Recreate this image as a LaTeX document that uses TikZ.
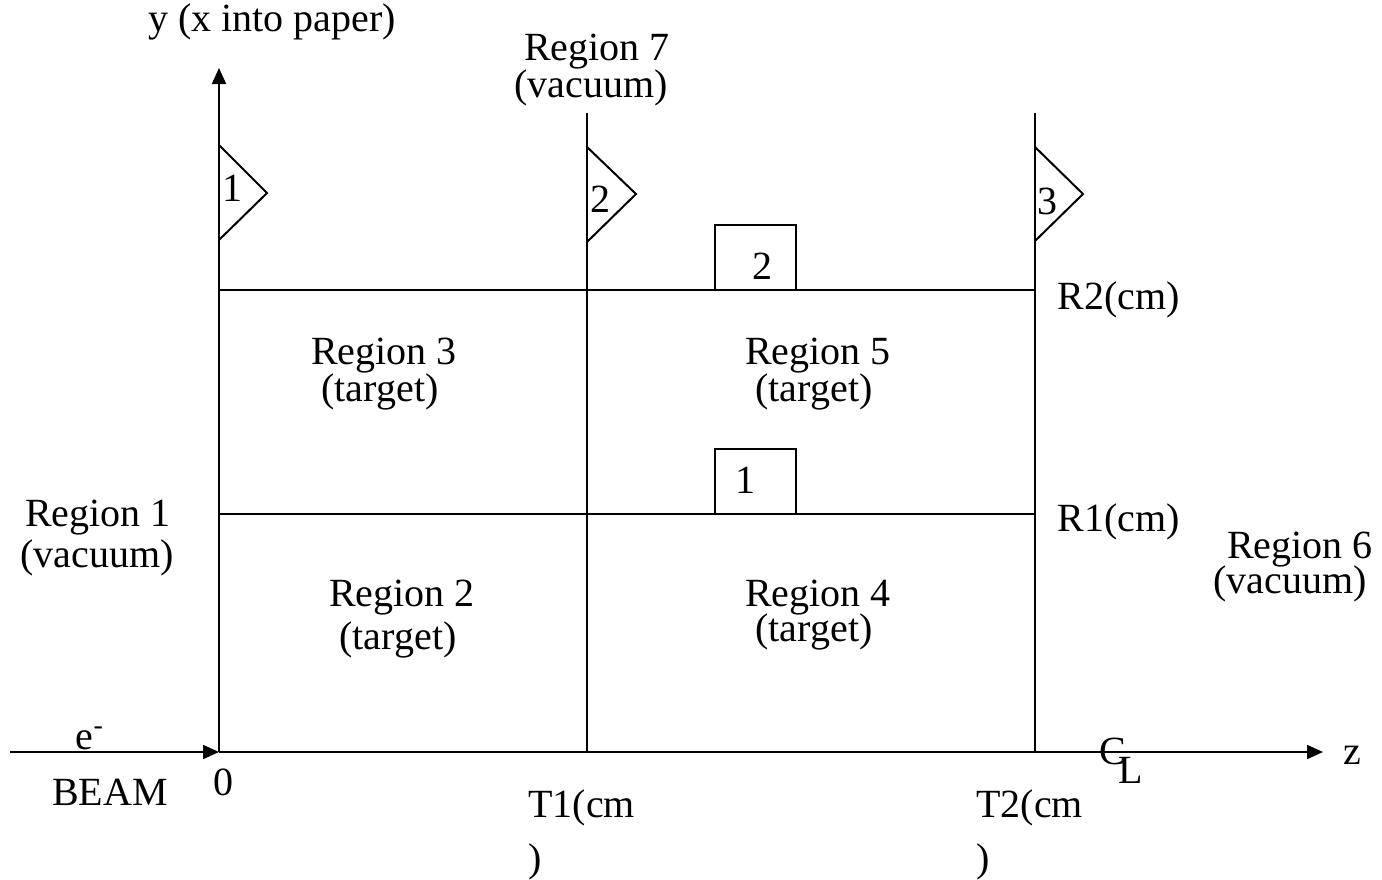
\documentclass[tikz,border=0pt]{standalone}
\usepackage{fontspec}
\setmainfont{Liberation Serif}
\usetikzlibrary{arrows.meta}
\tikzset{
  lbl/.style={inner sep=0pt, font=\fontsize{20}{24}\selectfont},
  ln/.style={line width=1pt},
  tip/.style={ln, -{Triangle[length=8pt,width=7pt]}},
}
\begin{document}
\begin{tikzpicture}[x=0.5pt,y=-0.5pt]
\useasboundingbox (0,0) rectangle (1382,879);

% axes and beam
\coordinate (o) at (219,752);
\coordinate (ytop) at (219,68);
\coordinate (beamstart) at (10,752);
\coordinate (zend) at (1323,752);
\draw[tip] (beamstart) -- (o);
\draw[tip] (o) -- (zend);
\draw[tip] (o) -- (ytop);

% interfaces
\coordinate (t1b) at (587,752); \coordinate (t1t) at (587,113);
\coordinate (t2b) at (1035,752); \coordinate (t2t) at (1035,113);
\draw[ln] (t1b) -- (t1t);
\draw[ln] (t2b) -- (t2t);
\coordinate (r2a) at (219,290); \coordinate (r2b) at (1035,290);
\coordinate (r1a) at (219,514); \coordinate (r1b) at (1035,514);
\draw[ln] (r2a) -- (r2b);
\draw[ln] (r1a) -- (r1b);

% surface markers (triangles) and radial markers (boxes)
\draw[ln] (219,145) -- (267,193) -- (219,240);
\draw[ln] (587,147) -- (636,194) -- (587,242);
\draw[ln] (1035,147) -- (1083,194) -- (1035,241);
\draw[ln] (715,290) |- (796,225) -- (796,290);
\draw[ln] (715,514) |- (796,449) -- (796,514);
\node[lbl] (tri1) at (232,188) {1};
\node[lbl] (tri2) at (600,199) {2};
\node[lbl] (tri3) at (1047,201) {3};
\node[lbl] (box2) at (762,266) {2};
\node[lbl] (box1) at (745,480) {1};

% axis labels
\node[lbl] (ylab) at (272,22) {y (x into paper)};
\node[lbl] (zlab) at (1352,755) {z};
\node[lbl] (zero) at (223,782) {0};
\node[lbl] (elec) at (90,738) {e\textsuperscript{-}};
\node[lbl] (beam) at (110,792) {BEAM};
\node[lbl, anchor=west] (t1a) at (528,808) {T1(cm};
\node[lbl, anchor=west] (t1c) at (528,862) {)};
\node[lbl, anchor=west] (t2a) at (976,808) {T2(cm};
\node[lbl, anchor=west] (t2c) at (976,862) {)};
\node[lbl, anchor=west] (r2lab) at (1057,300) {R2(cm)};
\node[lbl, anchor=west] (r1lab) at (1057,522) {R1(cm)};
\node[lbl] (clc) at (1113,751) {C};
\node[lbl] (cll) at (1131,770) {L};

% region labels
\node[lbl] (reg7) at (597,52) {Region 7};
\node[lbl] (reg7b) at (591,88) {(vacuum)};
\node[lbl] (reg1) at (98,518) {Region 1};
\node[lbl] (reg1b) at (97,558) {(vacuum)};
\node[lbl] (reg3) at (384,356) {Region 3};
\node[lbl] (reg3b) at (380,392) {(target)};
\node[lbl] (reg5) at (818,356) {Region 5};
\node[lbl] (reg5b) at (814,392) {(target)};
\node[lbl] (reg2) at (402,598) {Region 2};
\node[lbl] (reg2b) at (398,640) {(target)};
\node[lbl] (reg4) at (818,598) {Region 4};
\node[lbl] (reg4b) at (814,632) {(target)};
\node[lbl] (reg6) at (1300,550) {Region 6};
\node[lbl] (reg6b) at (1290,584) {(vacuum)};
\end{tikzpicture}
\end{document}
